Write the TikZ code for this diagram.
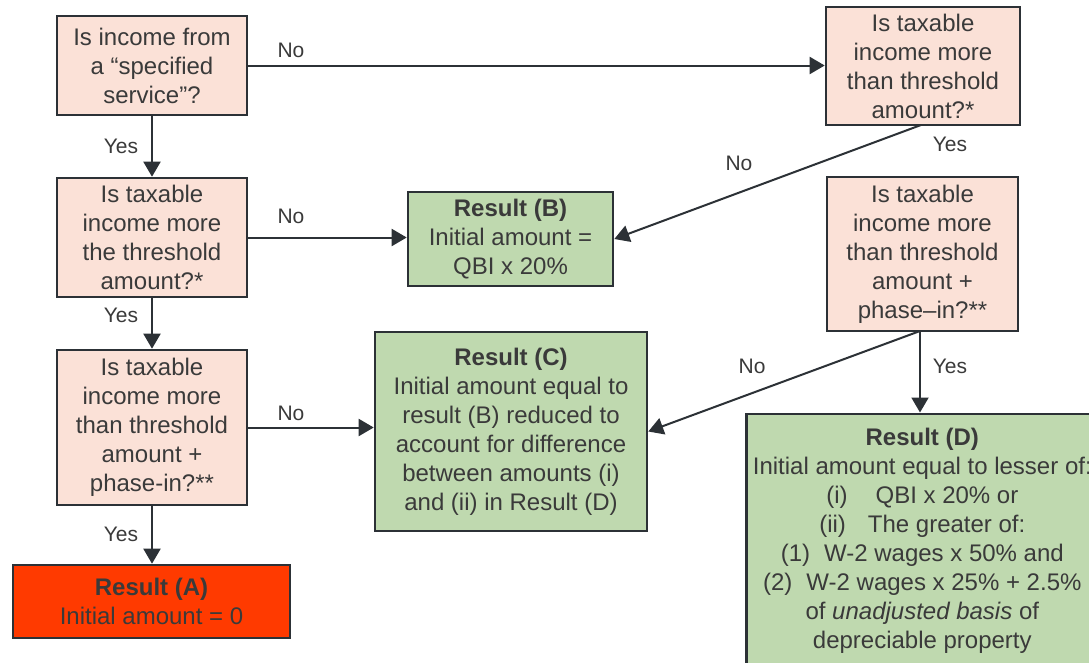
\documentclass[tikz,border=0pt]{standalone}
\usepackage{fontspec}
\setmainfont{Liberation Sans}
\usetikzlibrary{arrows.meta}
\definecolor{qfill}{HTML}{FBE1D7}
\definecolor{gfill}{HTML}{BFD9AF}
\definecolor{rfill}{HTML}{FF3A00}
\definecolor{bord}{HTML}{2C3136}
\definecolor{txt}{HTML}{3A3A3A}
\tikzset{
  box/.style={draw=bord, line width=2.6pt, align=center, text=txt, inner sep=2pt,
    font=\fontsize{24}{29}\selectfont},
  qbox/.style={box, fill=qfill},
  gbox/.style={box, fill=gfill},
  rbox/.style={box, fill=rfill},
  conn/.style={draw=bord, line width=2pt, -{Triangle[length=15pt,width=17pt]}},
  lbl/.style={text=txt, font=\fontsize{21}{25}\selectfont, inner sep=0pt},
}
\begin{document}
\begin{tikzpicture}[x=1pt,y=-1pt]
\useasboundingbox (0,0) rectangle (1089,662);
\fill[white] (0,0) rectangle (1089,662);
\begin{scope}
\clip (0,0) rectangle (1089,662);
\node[qbox, minimum width=190pt, minimum height=99pt] (q1) at (152,65.5)
  {Is income from\\a “specified\\service”?};
\node[qbox, minimum width=194pt, minimum height=118pt] (q2) at (923,66)
  {Is taxable\\income more\\than threshold\\amount?*};
\node[qbox, minimum width=190pt, minimum height=119pt] (q3) at (152,237.5)
  {Is taxable\\income more\\the threshold\\amount?*};
\node[gbox, minimum width=205pt, minimum height=94pt] (rb) at (510.5,239)
  {\textbf{Result (B)}\\Initial amount =\\QBI x 20\%};
\node[qbox, minimum width=191pt, minimum height=154pt] (q4) at (922.5,254)
  {Is taxable\\income more\\than threshold\\amount +\\phase–in?**};
\node[qbox, minimum width=190pt, minimum height=155pt] (q5) at (152,427.5)
  {Is taxable\\income more\\than threshold\\amount +\\phase-in?**};
\node[gbox, minimum width=272pt, minimum height=199pt] (rc) at (511,431.5)
  {\textbf{Result (C)}\\Initial amount equal to\\result (B) reduced to\\account for difference\\between amounts (i)\\and (ii) in Result (D)};
\node[rbox, minimum width=277pt, minimum height=73pt] (ra) at (151.5,601.5)
  {\textbf{Result (A)}\\Initial amount = 0};
\node[gbox, minimum width=352pt, anchor=north west, inner ysep=14pt] (rd) at (745,412.5)
  {\textbf{Result (D)}\\Initial amount equal to lesser of:\\(i)\hspace{28pt}QBI x 20\% or\\(ii)\hspace{22pt}The greater of:\\(1)\hspace{14pt}W-2 wages x 50\% and\\(2)\hspace{14pt}W-2 wages x 25\% + 2.5\%\\of \textit{unadjusted basis} of\\depreciable property};
\end{scope}
\coordinate (q2s) at (921,125);
\coordinate (q4s) at (920,331);
\draw[conn] (q1.east) -- (q1.east -| q2.west);
\draw[conn] (q1.south) -- (q3.north);
\draw[conn] (q2s) -- (rb.east);
\draw[conn] (q3.east) -- (q3.east -| rb.west);
\draw[conn] (q3.south) -- (q5.north);
\draw[conn] (q4s) -- (rc.east);
\draw[conn] (q4s) -- (q4s |- rd.north);
\draw[conn] (q5.east) -- (q5.east -| rc.west);
\draw[conn] (q5.south) -- (ra.north -| q5.south);
\node[lbl] (l1) at (291,50) {No};
\node[lbl] (l2) at (121,146) {Yes};
\node[lbl] (l3) at (739,163) {No};
\node[lbl] (l4) at (950,144) {Yes};
\node[lbl] (l5) at (291,216) {No};
\node[lbl] (l6) at (121,315) {Yes};
\node[lbl] (l7) at (752,366) {No};
\node[lbl] (l8) at (950,366) {Yes};
\node[lbl] (l9) at (291,413) {No};
\node[lbl] (l10) at (121,534) {Yes};
\end{tikzpicture}
\end{document}
